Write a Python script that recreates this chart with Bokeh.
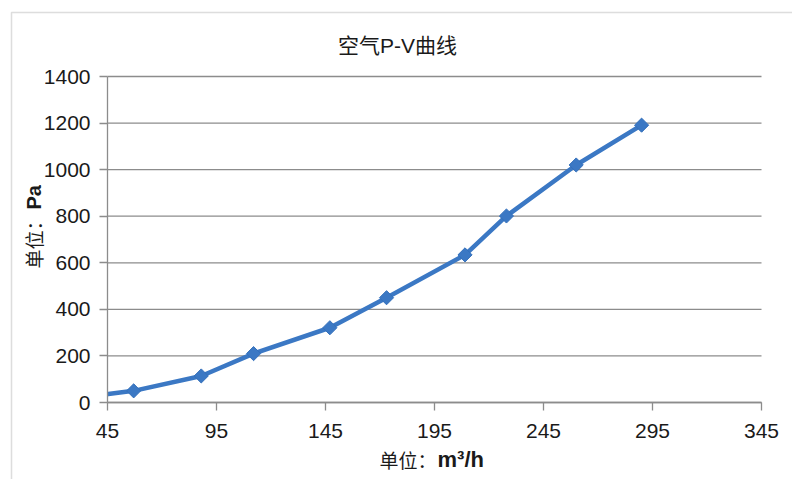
from bokeh.plotting import figure
from bokeh.models import Range1d, FixedTicker, Label, BoxAnnotation, LinearAxis
from bokeh.embed import file_html
from bokeh.resources import INLINE
import math

# ---- data ----
title_text = "空气P-V曲线"
airflow = [40, 57, 88, 112, 147, 173, 209, 228, 260, 290]          # m3/h
pressure = [30, 50, 114, 210, 321, 450, 634, 801, 1020, 1191]       # Pa
x_ticks = [45, 95, 145, 195, 245, 295, 345]
y_ticks = [0, 200, 400, 600, 800, 1000, 1200, 1400]
x_label_cn = "单位："
x_label_unit = "m³/h"
y_label_cn = "单位："
y_label_unit = "Pa"

# ---- layout geometry (pixels) ----
W, H = 792, 479
FL, FR, FT, FB = 107, 761, 76, 402
X0, X1 = 45, 345
Y0, Y1 = 0, 1400

def dx(px):
    return X0 + (px - FL) * (X1 - X0) / (FR - FL)

def dy(py):
    return Y0 + (FB - py) * (Y1 - Y0) / (FB - FT)

LATIN = "Liberation Sans"
CJK = "Noto Sans CJK SC"
BLUE = "#3b78c4"
GRID = "#8c8c8c"
TXT = "#1a1a1a"

p = figure(width=W, height=H, output_backend="svg", toolbar_location=None,
           x_range=Range1d(dx(0), dx(W)), y_range=Range1d(dy(H), dy(0)),
           x_axis_location=None, y_axis_location=None,
           min_border=0, min_border_left=0, min_border_right=0,
           min_border_top=0, min_border_bottom=0)
p.outline_line_color = None
p.background_fill_color = "white"
p.border_fill_color = "white"
p.xgrid.visible = False
p.ygrid.visible = False

# horizontal grid lines at the y ticks, spanning the x axis extent
p.segment(x0=[X0] * len(y_ticks), x1=[X1] * len(y_ticks), y0=y_ticks, y1=y_ticks,
          line_color=GRID, line_width=1.3)

# series
p.line(airflow, pressure, line_color=BLUE, line_width=4.5, line_join="round")
p.scatter(airflow, pressure, marker="square", angle=math.pi / 4, size=10,
          fill_color=BLUE, line_color="#3470bb", line_width=1)

# the plot area is clipped at the axis minimum (45): mask what lies left of it
p.add_layout(BoxAnnotation(left=dx(0), right=X0 - 0.2, bottom=dy(440), top=dy(360),
                           fill_color="white", fill_alpha=1, line_color=None,
                           level="glyph"))

# axes placed at fixed data locations
xax = LinearAxis(fixed_location=Y0, bounds=(X0, X1), ticker=FixedTicker(ticks=x_ticks))
yax = LinearAxis(fixed_location=X0, bounds=(Y0, Y1), ticker=FixedTicker(ticks=y_ticks))
for ax in (xax, yax):
    ax.axis_line_color = GRID
    ax.axis_line_width = 1.3
    ax.major_tick_line_color = GRID
    ax.major_tick_line_width = 1.3
    ax.major_tick_in = 0
    ax.major_tick_out = 8
    ax.minor_tick_line_color = None
    ax.major_label_text_font = LATIN
    ax.major_label_text_font_size = "21px"
    ax.major_label_text_color = TXT
xax.major_label_standoff = 13
yax.major_label_standoff = 9
p.add_layout(xax, "below")
p.add_layout(yax, "left")

# outer chart border
p.add_layout(BoxAnnotation(left=dx(11), right=dx(900), top=dy(12), bottom=dy(600),
                           fill_alpha=0, line_color="#8f8f8f", line_width=1.5))

# title
p.add_layout(Label(x=dx(397), y=dy(45), text=title_text, text_align="center",
                   text_baseline="middle", text_font=f"'{LATIN}', '{CJK}'",
                   text_font_size="21px", text_color=TXT))

# x axis label (CJK part + bold unit)
p.add_layout(Label(x=dx(436), y=dy(459), text=x_label_cn, text_align="right",
                   text_baseline="middle", text_font=CJK, text_font_size="19px",
                   text_color=TXT))
p.add_layout(Label(x=dx(437), y=dy(459), text=x_label_unit, text_align="left",
                   text_baseline="middle", text_font=LATIN, text_font_style="bold",
                   text_font_size="22px", text_color=TXT))

# y axis label (rotated)
p.add_layout(Label(x=dx(33), y=dy(211), text=y_label_cn, text_align="right",
                   text_baseline="middle", angle=math.pi / 2, text_font=CJK,
                   text_font_size="19px", text_color=TXT))
p.add_layout(Label(x=dx(33), y=dy(209), text=y_label_unit, text_align="left",
                   text_baseline="middle", angle=math.pi / 2, text_font=LATIN,
                   text_font_style="bold", text_font_size="20px", text_color=TXT))

open("out.html", "w").write(file_html(p, INLINE))
